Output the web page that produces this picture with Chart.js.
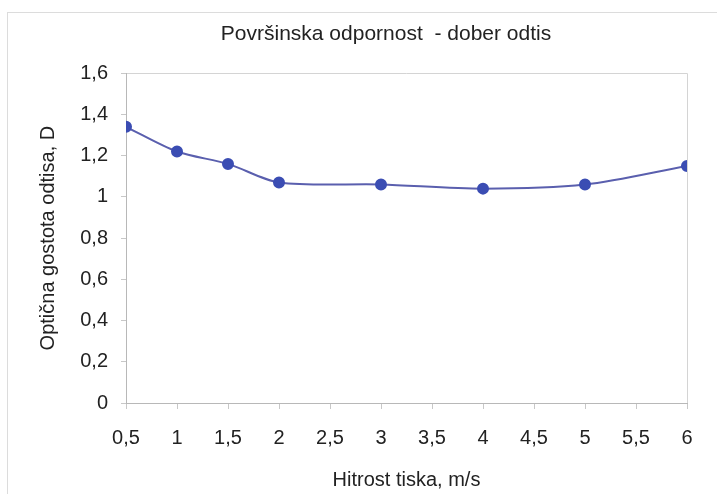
<!DOCTYPE html>
<html>
<head>
<meta charset="utf-8">
<script src="https://cdn.jsdelivr.net/npm/chart.js@4.4.0/dist/chart.umd.min.js"></script>
<style>
  html, body { margin: 0; padding: 0; background: #fff; }
  #wrap { position: relative; width: 717px; height: 494px; }
</style>
</head>
<body>
<div id="wrap"><canvas id="chart" width="717" height="494"></canvas></div>
<script>
// Hitrost tiska (m/s) and measured optical density
const speeds = [0.5, 1, 1.5, 2, 3, 4, 5, 6];
const density = [1.34, 1.22, 1.16, 1.07, 1.06, 1.04, 1.06, 1.15];

const xTicks = [0.5, 1, 1.5, 2, 2.5, 3, 3.5, 4, 4.5, 5, 5.5, 6];
const yTicks = [0, 0.2, 0.4, 0.6, 0.8, 1, 1.2, 1.4, 1.6];

const titleText = 'Površinska odpornost  - dober odtis';
const xTitle = 'Hitrost tiska, m/s';
const yTitle = 'Optična gostota odtisa, D';

const FONT = "'Liberation Sans', Arial, sans-serif";
const comma = v => String(Number(v.toFixed(1))).replace('.', ',');

// light frames: outer chart frame and plot area box;
// title block narrowed on the left so the title sits over the plot like the Excel original
const frames = {
  id: 'frames',
  afterLayout(chart) {
    if (chart.titleBlock) chart.titleBlock.left = 85;
  },
  beforeDraw(chart) {
    const ctx = chart.ctx;
    ctx.save();
    ctx.strokeStyle = '#dcdcdc';
    ctx.lineWidth = 1;
    ctx.strokeRect(7.5, 12.5, 800, 600);
    const a = chart.chartArea;
    ctx.strokeStyle = '#d4d4d4';
    ctx.beginPath();
    ctx.moveTo(a.left, Math.round(a.top) + 0.5);
    ctx.lineTo(Math.round(a.right) + 0.5, Math.round(a.top) + 0.5);
    ctx.lineTo(Math.round(a.right) + 0.5, a.bottom);
    ctx.stroke();
    ctx.restore();
  }
};

new Chart(document.getElementById('chart'), {
  type: 'line',
  data: {
    datasets: [{
      label: 'D',
      data: speeds.map((s, i) => ({ x: s, y: density[i] })),
      borderColor: '#5a5fae',
      borderWidth: 2,
      backgroundColor: '#3b4db3',
      pointBackgroundColor: '#3b4db3',
      pointBorderColor: '#3b4db3',
      pointRadius: 5,
      tension: 0.3,
      fill: false
    }]
  },
  options: {
    responsive: false,
    animation: false,
    layout: { padding: { top: 11, left: 10, right: 30, bottom: 0 } },
    plugins: {
      legend: { display: false },
      tooltip: { enabled: false },
      title: {
        display: true,
        text: titleText,
        color: '#222',
        font: { family: FONT, size: 21, weight: 'normal' },
        padding: { top: 11, bottom: 26 }
      }
    },
    scales: {
      x: {
        type: 'linear',
        min: 0.5,
        max: 6,
        afterBuildTicks: s => { s.ticks = xTicks.map(v => ({ value: v })); },
        afterFit: s => { s.height = 91; },
        ticks: {
          color: '#222',
          font: { family: FONT, size: 20 },
          padding: 17,
          maxRotation: 0,
          autoSkip: false,
          callback: v => comma(v)
        },
        grid: { drawOnChartArea: false, drawTicks: true, tickLength: 6, color: '#c8c8c8' },
        border: { color: '#b8b8b8' },
        title: {
          display: true,
          text: xTitle,
          color: '#222',
          font: { family: FONT, size: 20 },
          padding: { top: 0, bottom: 2 }
        }
      },
      y: {
        min: 0,
        max: 1.6,
        afterBuildTicks: s => { s.ticks = yTicks.map(v => ({ value: v })); },
        afterFit: s => { s.width = 116; },
        ticks: {
          color: '#222',
          font: { family: FONT, size: 20 },
          padding: 13,
          callback: v => comma(v)
        },
        grid: { drawOnChartArea: false, drawTicks: true, tickLength: 5, color: '#c8c8c8' },
        border: { color: '#b8b8b8' },
        title: {
          display: true,
          text: yTitle,
          color: '#222',
          font: { family: FONT, size: 20 },
          padding: { top: 26, bottom: 0 }
        }
      }
    }
  },
  plugins: [frames]
});
</script>
</body>
</html>
